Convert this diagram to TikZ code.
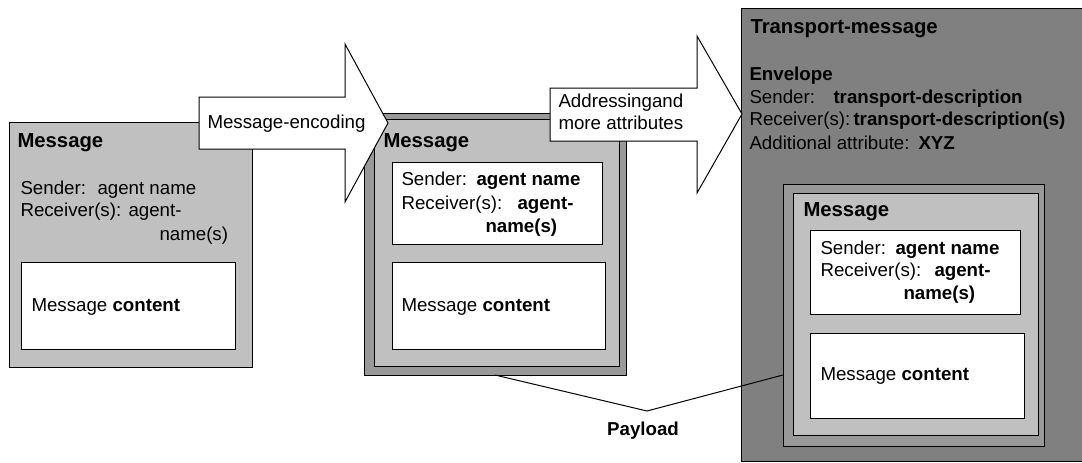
\documentclass[tikz,border=0pt]{standalone}
\usepackage{fontspec}
\setmainfont{Liberation Sans}
\definecolor{lgray}{HTML}{C0C0C0}
\definecolor{mgray}{HTML}{999999}
\definecolor{dgray}{HTML}{808080}
\begin{document}
\begin{tikzpicture}[x=1pt,y=-1pt,line width=1pt,
  box/.style={draw=black,line width=1pt,anchor=north west,inner sep=0pt,outer sep=0pt},
  txt/.style={anchor=base west,inner sep=0pt,font=\fontsize{18.7}{22}\selectfont},
  btxt/.style={anchor=base west,inner sep=0pt,font=\fontsize{18.7}{22}\selectfont\bfseries},
  ttl/.style={anchor=base west,inner sep=0pt,font=\fontsize{20.3}{24}\selectfont\bfseries},
  blockarrow/.style={draw=black,fill=white,line width=1pt,line join=miter},
  link/.style={draw=black,line width=1pt}]
\useasboundingbox (0,0) rectangle (1082,463);
\clip (0,0) rectangle (1082,463);
\fill[white] (0,0) rectangle (1082,463);

% ---------- Message 1 ----------
\node[box,fill=lgray,minimum width=243pt,minimum height=245pt] (m1) at (9,122) {};
\node[ttl] (m1t) at (17,147) {Message};
\node[txt] (m1s) at (20,194) {Sender:};
\node[txt] (m1sv) at (97,194) {agent name};
\node[txt] (m1r) at (20,216) {Receiver(s):};
\node[txt] (m1rv) at (128,216) {agent-};
\node[txt] (m1rv2) at (159,240) {name(s)};
\node[box,fill=white,minimum width=214pt,minimum height=87pt] (m1c) at (21,262) {};
\node[txt] (m1ct) at (31,311) {Message \textbf{content}};

% ---------- Message 2 ----------
\node[box,fill=mgray,minimum width=262pt,minimum height=262pt] (m2o) at (364,113) {};
\node[box,fill=lgray,minimum width=245pt,minimum height=247pt] (m2) at (374,119) {};
\node[ttl] (m2t) at (383,147) {Message};
\node[box,fill=white,minimum width=210pt,minimum height=82pt] (m2h) at (392,162) {};
\node[txt] (m2s) at (401,185) {Sender:};
\node[btxt] (m2sv) at (476,185) {agent name};
\node[txt] (m2r) at (401,209) {Receiver(s):};
\node[btxt] (m2rv) at (517,209) {agent-};
\node[btxt] (m2rv2) at (485,232) {name(s)};
\node[box,fill=white,minimum width=213pt,minimum height=87pt] (m2c) at (392,262) {};
\node[txt] (m2ct) at (401,311) {Message \textbf{content}};

% ---------- Transport message ----------
\node[box,fill=dgray,minimum width=354pt,minimum height=453.5pt] (tm) at (741,8) {};
\node[ttl] (tmt) at (750,34) {Transport-message};
\node[btxt] (env) at (749,80) {Envelope};
\node[txt] (ens) at (749,103) {Sender:};
\node[btxt] (ensv) at (833,103) {transport-description};
\node[txt] (enr) at (749,125) {Receiver(s):};
\node[btxt] (enrv) at (853,125) {transport-description(s)};
\node[txt] (ena) at (749,149) {Additional attribute:};
\node[btxt] (enav) at (918,149) {XYZ};

\node[box,fill=mgray,minimum width=261pt,minimum height=262pt] (m3o) at (783,184) {};
\node[box,fill=lgray,minimum width=245pt,minimum height=242pt] (m3) at (793,193) {};
\node[ttl] (m3t) at (803,216) {Message};
\node[box,fill=white,minimum width=210pt,minimum height=84pt] (m3h) at (810,230) {};
\node[txt] (m3s) at (820,254) {Sender:};
\node[btxt] (m3sv) at (895,254) {agent name};
\node[txt] (m3r) at (820,276) {Receiver(s):};
\node[btxt] (m3rv) at (934,276) {agent-};
\node[btxt] (m3rv2) at (903,299) {name(s)};
\node[box,fill=white,minimum width=214pt,minimum height=85pt] (m3c) at (810,333) {};
\node[txt] (m3ct) at (820,380) {Message \textbf{content}};

% ---------- Block arrows ----------
\coordinate (a1a) at (199,97);
\coordinate (a1b) at (345,97);
\coordinate (a1c) at (345,44);
\coordinate (a1tip) at (388,123);
\coordinate (a1d) at (345,202);
\coordinate (a1e) at (345,149);
\coordinate (a1f) at (199,149);
\draw[blockarrow] (a1a) -- (a1b) -- (a1c) -- (a1tip) -- (a1d) -- (a1e) -- (a1f) -- cycle;
\node[txt] (a1t) at (207,128) {Message-encoding};

\coordinate (a2a) at (550,88);
\coordinate (a2b) at (697,88);
\coordinate (a2c) at (697,36);
\coordinate (a2tip) at (742,114);
\coordinate (a2d) at (697,193);
\coordinate (a2e) at (697,141);
\coordinate (a2f) at (550,141);
\draw[blockarrow] (a2a) -- (a2b) -- (a2c) -- (a2tip) -- (a2d) -- (a2e) -- (a2f) -- cycle;
\node[txt] (a2t1) at (558,107) {Addressingand};
\node[txt] (a2t2) at (558,129) {more attributes};

% ---------- Payload ----------
\coordinate (pl) at (m2o.south west -| 495,0);
\coordinate (pv) at (647,411);
\coordinate (pr) at (m3o.west |- 0,375);
\draw[link] (pl) -- (pv) -- (pr);
\node[btxt,anchor=base] (pay) at (643,435) {Payload};
\end{tikzpicture}
\end{document}
